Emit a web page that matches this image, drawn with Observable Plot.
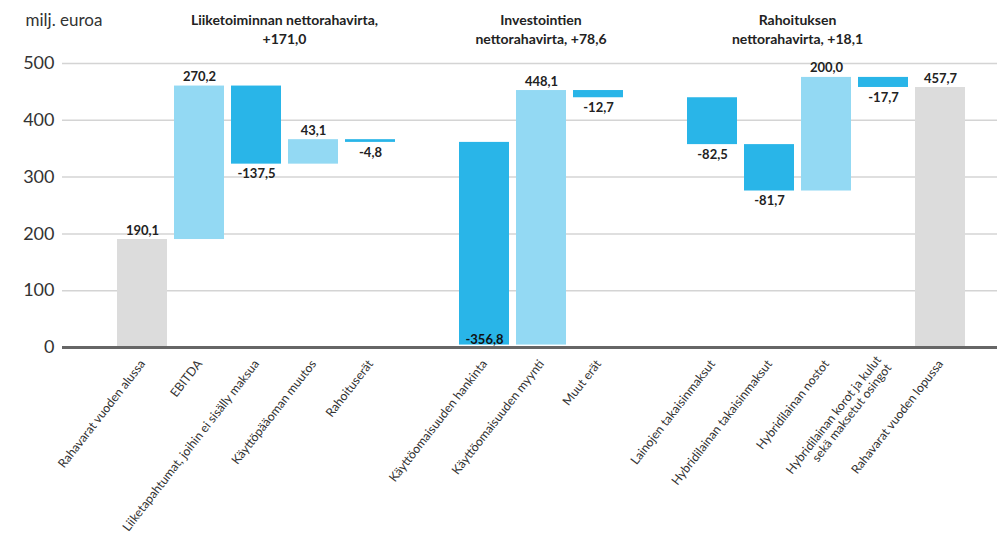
<!DOCTYPE html>
<html>
<head>
<meta charset="utf-8">
<script src="https://cdn.jsdelivr.net/npm/d3@7"></script>
<script src="https://cdn.jsdelivr.net/npm/@observablehq/plot@0.6"></script>
<style>
  html, body { margin: 0; padding: 0; background: #fff; }
  #chart svg { display: block; }
</style>
</head>
<body>
<div id="chart"></div>
<script>
// ---- Data ----
const categories = [
  "Rahavarat vuoden alussa",
  "EBITDA",
  "Liiketapahtumat, joihin ei sisälly maksua",
  "Käyttöpääoman muutos",
  "Rahoituserät",
  "Käyttöomaisuuden hankinta",
  "Käyttöomaisuuden myynti",
  "Muut erät",
  "Lainojen takaisinmaksut",
  "Hybridilainan takaisinmaksut",
  "Hybridilainan nostot",
  "Hybridilainan korot ja kulut\nsekä maksetut osingot",
  "Rahavarat vuoden lopussa"
];
const values = [190.1, 270.2, -137.5, 43.1, -4.8, -356.8, 448.1, -12.7, -82.5, -81.7, 200.0, -17.7, 457.7];
const kinds  = ["total", "delta", "delta", "delta", "delta", "delta", "delta", "delta", "delta", "delta", "delta", "delta", "total"];
const groups = [null, "liike", "liike", "liike", "liike", "inv", "inv", "inv", "rah", "rah", "rah", "rah", null];
const groupKeys = ["liike", "inv", "rah"];
const groupTitles = [
  "Liiketoiminnan nettorahavirta,\n+171,0",
  "Investointien\nnettorahavirta, +78,6",
  "Rahoituksen\nnettorahavirta, +18,1"
];
const yTicks = [0, 100, 200, 300, 400, 500];
const yUnit = "milj. euroa";

// ---- Build waterfall table ----
let running = 0;
const rows = categories.map((c, i) => {
  let y1, y2;
  if (kinds[i] === "total") { y1 = 0; y2 = values[i]; running = values[i]; }
  else { y1 = running; y2 = running + values[i]; running = y2; }
  return { cat: c, value: values[i], kind: kinds[i], group: groups[i], y1, y2,
           lo: Math.min(y1, y2), hi: Math.max(y1, y2) };
});

// x domain with spacer slots between the flow groups
const xDomain = [];
categories.forEach((c, i) => {
  if (i > 0 && groups[i] && groups[i - 1] && groups[i] !== groups[i - 1]) xDomain.push("__gap" + i);
  xDomain.push(c);
});

const fmt = v => d3.format(".1f")(v).replace(".", ",").replace("−", "-");
const color = d => d.kind === "total" ? "#dcdcdc" : (d.value >= 0 ? "#93d9f3" : "#29b5e8");

const FONT = "Lato, 'Noto Sans', sans-serif";

const posLabels = rows.filter(d => d.kind === "total" || d.value >= 0);
const negBelow = rows.filter(d => d.kind !== "total" && d.value < 0 && d.lo >= 20);
const negInside = rows.filter(d => d.kind !== "total" && d.value < 0 && d.lo < 20);

function groupTitleMark(index, scales, values, dimensions) {
  const xs = scales.x;
  const bw = typeof xs.bandwidth === "function" ? xs.bandwidth() : scales.scales.x.bandwidth;
  const g = d3.create("svg:g")
    .attr("font-family", FONT)
    .attr("font-size", 14)
    .attr("font-weight", "bold")
    .attr("fill", "#222")
    .attr("text-anchor", "middle");
  groupKeys.forEach((k, gi) => {
    const cats = rows.filter(r => r.group === k).map(r => r.cat);
    const cx = (xs(cats[0]) + xs(cats[cats.length - 1]) + bw) / 2;
    const lines = groupTitles[gi].split("\n");
    const t = g.append("text").attr("x", cx).attr("y", 25);
    lines.forEach((l, li) => t.append("tspan").attr("x", cx).attr("dy", li === 0 ? 0 : 19).text(l));
  });
  return g.node();
}

const plot = Plot.plot({
  width: 1000,
  height: 537,
  marginLeft: 62,
  marginRight: 3,
  marginTop: 63,
  marginBottom: 190,
  style: { fontFamily: FONT, background: "#fff", overflow: "visible" },
  x: { type: "band", domain: xDomain, paddingInner: 0.128, paddingOuter: 0.715, align: 0.634, label: null },
  y: { domain: [0, 500], label: null },
  marks: [
    Plot.ruleY(yTicks.filter(t => t > 0), { stroke: "#d4d4d4", strokeWidth: 1.5 }),
    Plot.barY(rows, { x: "cat", y1: "y1", y2: "y2", fill: color }),
    Plot.ruleY([0], { stroke: "#666", strokeWidth: 3 }),
    Plot.axisY({ ticks: yTicks, tickSize: 0, tickPadding: 8, fontSize: 18, color: "#333", tickFormat: d => String(d) }),
    Plot.axisX({ ticks: categories, tickSize: 0, tickRotate: -52, tickPadding: 14, fontSize: 12.3, color: "#333", lineHeight: 1.05 }),
    Plot.text(posLabels, { x: "cat", y: "hi", text: d => fmt(d.value), lineAnchor: "bottom", dy: -5, fontSize: 13, fontWeight: "bold", fill: "#222" }),
    Plot.text(negBelow, { x: "cat", y: "lo", text: d => fmt(d.value), lineAnchor: "top", dy: 5, fontSize: 13, fontWeight: "bold", fill: "#222" }),
    Plot.text(negInside, { x: "cat", y: "lo", text: d => fmt(d.value), lineAnchor: "bottom", dy: -1, fontSize: 13, fontWeight: "bold", fill: "#111" }),
    Plot.text([yUnit], { frameAnchor: "top-left", text: d => d, textAnchor: "start", lineAnchor: "middle", dx: -37, dy: -43, fontSize: 17, fill: "#333" }),
    groupTitleMark
  ]
});

document.getElementById("chart").appendChild(plot);
</script>
</body>
</html>
